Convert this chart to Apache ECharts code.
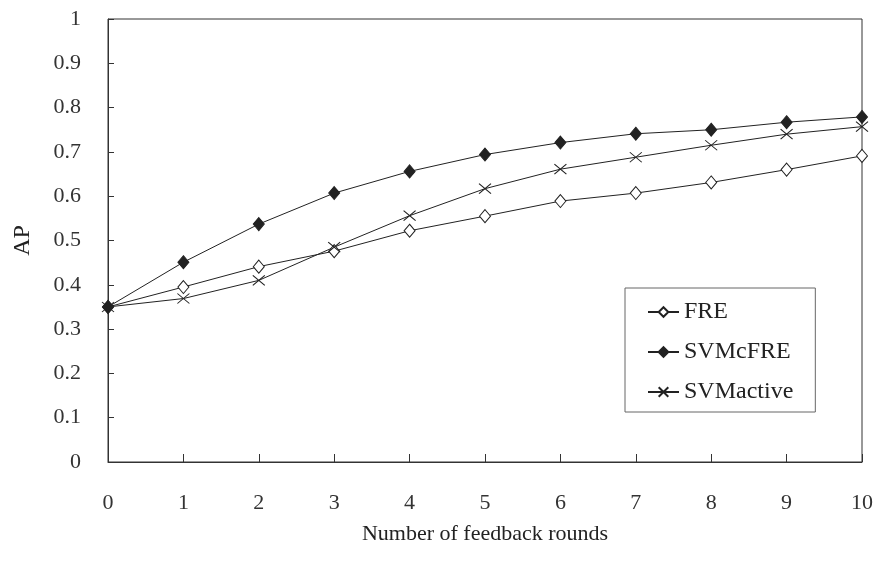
<!DOCTYPE html>
<html><head><meta charset="utf-8">
<script src="https://cdn.jsdelivr.net/npm/echarts@6/dist/echarts.min.js"></script>
<style>html,body{margin:0;padding:0;background:#fff}#c{width:878px;height:561px}</style>
</head><body><div id="c"></div>
<script>
const rounds = [0,1,2,3,4,5,6,7,8,9,10];
const fre = [0.35,0.395,0.441,0.476,0.522,0.555,0.589,0.607,0.631,0.660,0.691];
const svmcfre = [0.35,0.451,0.537,0.607,0.656,0.694,0.721,0.741,0.750,0.767,0.779];
const svmactive = [0.35,0.369,0.410,0.485,0.556,0.617,0.661,0.688,0.715,0.740,0.757];
const yTicks = [0,0.1,0.2,0.3,0.4,0.5,0.6,0.7,0.8,0.9,1];

const font = 'Liberation Serif';
const lineC = '#222';
const crossPath = 'path://M0,0L12,10M12,0L0,10';
function pairs(v){ return rounds.map((r,i)=>[r,v[i]]); }

const chart = echarts.init(document.getElementById('c'), null, {renderer:'canvas'});
chart.setOption({
  backgroundColor:'#fff',
  animation:false,
  grid:{left:108, right:16, top:19, bottom:99, show:true, borderColor:'#333', borderWidth:1, backgroundColor:'transparent'},
  xAxis:{type:'value', min:0, max:10, interval:1,
    name:'Number of feedback rounds', nameLocation:'middle', nameGap:61,
    nameTextStyle:{fontFamily:font, fontSize:22, color:'#222'},
    axisLine:{lineStyle:{color:'#333', width:1}},
    axisTick:{inside:true, length:8, lineStyle:{color:'#333'}},
    axisLabel:{fontFamily:font, fontSize:22, color:'#333', margin:30},
    splitLine:{show:false}},
  yAxis:{type:'value', min:0, max:1, interval:0.1,
    name:'AP', nameLocation:'middle', nameGap:73, nameRotate:90,
    nameTextStyle:{fontFamily:font, fontSize:24, color:'#222'},
    axisLine:{show:true, lineStyle:{color:'#333', width:1}},
    axisTick:{inside:true, length:6, lineStyle:{color:'#333'}},
    axisLabel:{fontFamily:font, fontSize:22, color:'#333', margin:27,
      formatter: v => { const t = yTicks.find(x=>Math.abs(x-v)<1e-9); return t===undefined? '' : String(t); }},
    splitLine:{show:false}},
  legend:{orient:'vertical', left:625, top:288,
    padding:[12,22,8,22], itemGap:16, itemWidth:31, itemHeight:12,
    borderColor:'#666', borderWidth:1, backgroundColor:'#fff',
    textStyle:{fontFamily:font, fontSize:24, color:'#222', lineHeight:24},
    data:['FRE','SVMcFRE','SVMactive']},
  series:[
    {name:'FRE', type:'line', data:pairs(fre), symbol:'diamond', symbolSize:[11,13],
      lineStyle:{color:lineC, width:1}, itemStyle:{color:'#fff', borderColor:lineC, borderWidth:1}},
    {name:'SVMcFRE', type:'line', data:pairs(svmcfre), symbol:'diamond', symbolSize:[11,13],
      lineStyle:{color:lineC, width:1}, itemStyle:{color:lineC, borderColor:lineC, borderWidth:1}},
    {name:'SVMactive', type:'line', data:pairs(svmactive), symbol:crossPath, symbolSize:[12,10],
      lineStyle:{color:lineC, width:1}, itemStyle:{color:lineC, borderColor:lineC, borderWidth:1}}
  ]
});
</script></body></html>
